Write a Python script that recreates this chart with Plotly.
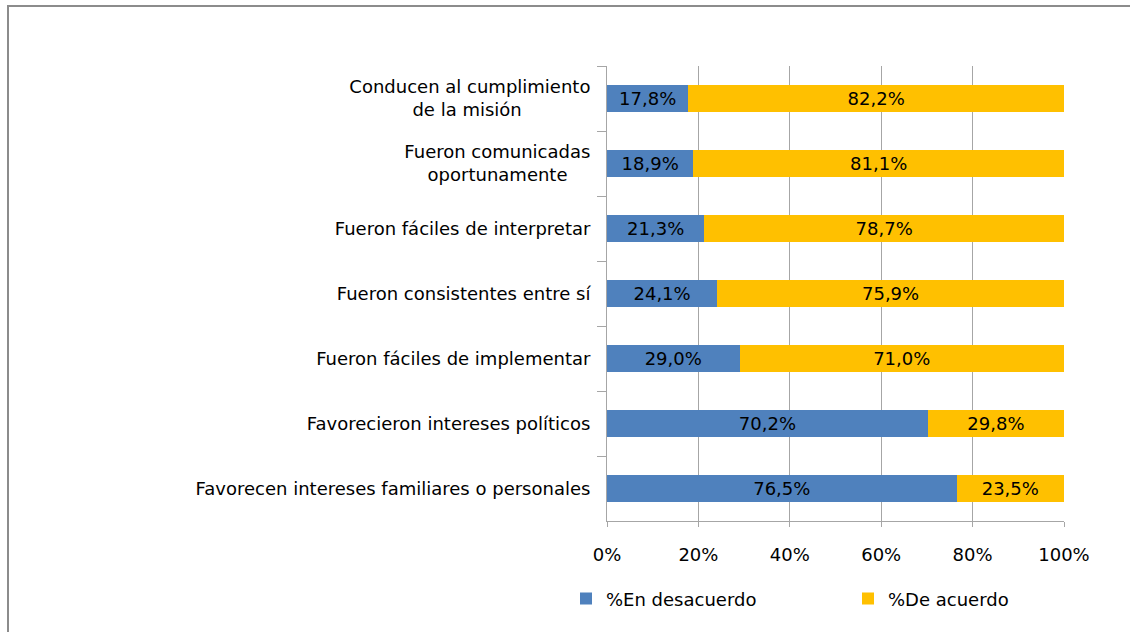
import plotly.graph_objects as go

NB = "\u00a0"
categories = [
    "Conducen al cumplimiento<br>de la misión" + NB * 12,
    "Fueron comunicadas<br>oportunamente" + NB * 4,
    "Fueron fáciles de interpretar",
    "Fueron consistentes entre sí",
    "Fueron fáciles de implementar",
    "Favorecieron intereses políticos",
    "Favorecen intereses familiares o personales",
]
desacuerdo = [17.8, 18.9, 21.3, 24.1, 29.0, 70.2, 76.5]
acuerdo = [82.2, 81.1, 78.7, 75.9, 71.0, 29.8, 23.5]

FONT = "DejaVu Sans"
FS = 18
GREY = "#a6a6a6"

fig = go.Figure()
fig.add_trace(go.Bar(
    y=categories, x=desacuerdo, orientation="h", name="%En desacuerdo",
    marker=dict(color="#4f81bd", line=dict(width=0)),
    texttemplate="%{x:.1f}%", textposition="inside", insidetextanchor="middle",
    textfont=dict(color="black", size=FS, family=FONT),
))
fig.add_trace(go.Bar(
    y=categories, x=acuerdo, orientation="h", name="%De acuerdo",
    marker=dict(color="#ffc000", line=dict(width=0)),
    texttemplate="%{x:.1f}%", textposition="inside", insidetextanchor="middle",
    textfont=dict(color="black", size=FS, family=FONT),
))

fig.update_layout(
    width=1130, height=632,
    barmode="stack", bargap=0.58,
    separators=",.",
    plot_bgcolor="white", paper_bgcolor="white",
    font=dict(family=FONT, size=FS, color="black"),
    margin=dict(l=607, r=66, t=66, b=111),
    uniformtext=dict(minsize=10, mode="show"),
    legend=dict(
        orientation="h", xref="paper", yref="paper",
        x=-0.0678, y=-0.171, xanchor="left", yanchor="middle",
        entrywidth=237, entrywidthmode="pixels", traceorder="normal",
        font=dict(size=FS, family=FONT), itemwidth=30,
    ),
    xaxis=dict(
        range=[0, 100], tickvals=[0, 20, 40, 60, 80, 100],
        ticktext=["0%", "20%", "40%", "60%", "80%", "100%"],
        showgrid=True, gridcolor=GREY, gridwidth=1,
        showline=True, linecolor=GREY, linewidth=1,
        ticks="outside", ticklen=5, tickcolor=GREY,
        ticklabelstandoff=12, zeroline=False,
    ),
    yaxis=dict(
        autorange="reversed", tickson="boundaries",
        ticks="outside", ticklen=9, tickcolor=GREY,
        showline=True, linecolor=GREY, linewidth=1,
        showgrid=False, ticklabelstandoff=12,
    ),
    shapes=[dict(
        type="rect", xref="paper", yref="paper",
        x0=(8 - 607) / 457, x1=(1145 - 607) / 457,
        y0=(521 - 645) / 455, y1=(521 - 6) / 455,
        line=dict(color="#8c8c8c", width=2), fillcolor="rgba(0,0,0,0)",
        layer="below",
    )],
)

fig.write_html("out.html", config={"displayModeBar": False},
               post_script="document.body.style.margin='0px';")
